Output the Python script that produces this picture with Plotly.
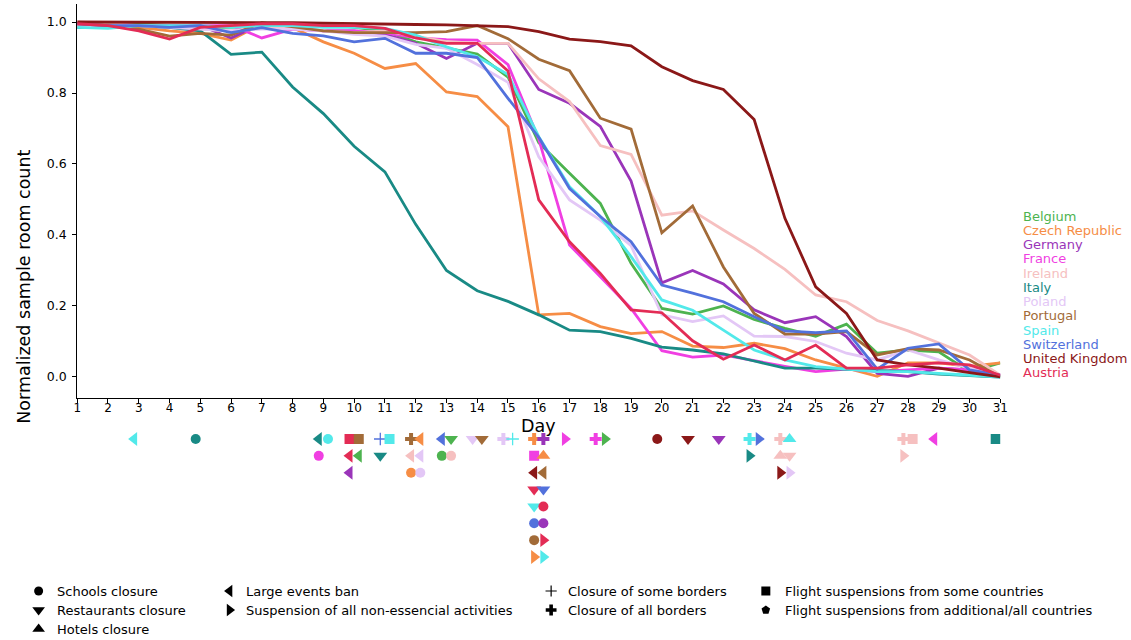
import plotly.graph_objects as go

W, H = 1131, 640
FONT = "DejaVu Sans"

days = list(range(1, 32))

countries = ["Belgium", "Czech Republic", "Germany", "France", "Ireland", "Italy",
             "Poland", "Portugal", "Spain", "Switzerland", "United Kingdom", "Austria"]
colors = ["#4db34f", "#f68d45", "#9a35b9", "#f03fe2", "#f6c0c0", "#198a85",
          "#e3c7f6", "#a26b38", "#52e9ea", "#5271dc", "#8b1818", "#e32c55"]

belgium = [0.99, 0.99, 0.995, 0.99, 0.985, 0.985, 0.99, 0.995, 0.995, 0.985, 0.975, 0.944, 0.926, 0.91, 0.845, 0.66,
           0.574, 0.489, 0.32, 0.193, 0.177, 0.2, 0.162, 0.137, 0.115, 0.149, 0.067, 0.076, 0.071, 0.015, 0.04]
czech = [0.99, 0.985, 0.985, 0.975, 0.968, 0.949, 0.995, 0.984, 0.944, 0.912, 0.869, 0.883, 0.803, 0.79, 0.705, 0.175,
         0.179, 0.142, 0.122, 0.128, 0.087, 0.083, 0.095, 0.08, 0.048, 0.025, 0.002, 0.04, 0.04, 0.03, 0.04]
germany = [0.995, 0.995, 0.99, 0.985, 0.99, 0.955, 0.995, 0.985, 0.975, 0.975, 0.965, 0.94, 0.897, 0.94, 0.94, 0.81,
           0.771, 0.706, 0.552, 0.265, 0.3, 0.262, 0.189, 0.153, 0.17, 0.114, 0.01, 0.002, 0.025, 0.02, 0.005]
france = [0.995, 0.995, 0.99, 0.99, 0.99, 0.99, 0.955, 0.98, 0.975, 0.975, 0.97, 0.955, 0.95, 0.949, 0.88, 0.67,
          0.372, 0.283, 0.193, 0.074, 0.056, 0.062, 0.045, 0.03, 0.015, 0.022, 0.015, 0.02, 0.025, 0.02, 0.005]
ireland = [1.0, 0.995, 0.99, 0.985, 0.98, 0.975, 0.985, 0.985, 0.975, 0.97, 0.975, 0.96, 0.945, 0.94, 0.94, 0.84,
           0.776, 0.652, 0.627, 0.456, 0.468, 0.414, 0.362, 0.303, 0.231, 0.212, 0.159, 0.13, 0.095, 0.062, 0.005]
italy = [0.984, 0.99, 0.99, 0.985, 0.975, 0.909, 0.915, 0.817, 0.742, 0.65, 0.578, 0.43, 0.3, 0.243, 0.213, 0.175,
         0.132, 0.128, 0.109, 0.084, 0.076, 0.065, 0.045, 0.025, 0.025, 0.022, 0.018, 0.015, 0.008, 0.003, 0.0]
poland = [0.99, 0.99, 0.99, 0.985, 0.98, 0.975, 0.98, 0.98, 0.975, 0.965, 0.96, 0.937, 0.926, 0.88, 0.83, 0.62,
          0.499, 0.442, 0.37, 0.175, 0.156, 0.172, 0.115, 0.114, 0.1, 0.067, 0.048, 0.076, 0.048, 0.025, 0.005]
portugal = [0.995, 0.99, 0.98, 0.96, 0.968, 0.963, 0.998, 0.987, 0.975, 0.97, 0.97, 0.97, 0.973, 0.99, 0.953, 0.895,
            0.863, 0.729, 0.698, 0.406, 0.482, 0.31, 0.179, 0.121, 0.121, 0.128, 0.062, 0.08, 0.076, 0.048, 0.0]
spain = [0.985, 0.982, 0.99, 0.99, 0.99, 0.985, 0.99, 0.99, 0.985, 0.985, 0.982, 0.963, 0.93, 0.902, 0.852, 0.677,
         0.536, 0.452, 0.339, 0.217, 0.188, 0.132, 0.076, 0.048, 0.029, 0.022, 0.015, 0.015, 0.01, 0.005, 0.0]
switzerland = [0.995, 0.99, 0.99, 0.985, 0.99, 0.97, 0.984, 0.968, 0.961, 0.944, 0.954, 0.912, 0.912, 0.9, 0.785, 0.675,
               0.531, 0.452, 0.381, 0.259, 0.236, 0.212, 0.17, 0.13, 0.125, 0.13, 0.022, 0.081, 0.093, 0.02, 0.005]
united_kingdom = [1.0, 1.0, 1.0, 0.998, 0.998, 0.998, 0.998, 0.998, 0.997, 0.995, 0.995, 0.993, 0.992, 0.989, 0.987, 0.973,
                  0.952, 0.945, 0.933, 0.874, 0.835, 0.81, 0.725, 0.447, 0.254, 0.179, 0.048, 0.034, 0.025, 0.012, 0.0]
austria = [0.995, 0.99, 0.975, 0.952, 0.985, 0.99, 0.995, 0.995, 0.99, 0.99, 0.982, 0.955, 0.94, 0.94, 0.862, 0.499,
           0.381, 0.292, 0.189, 0.181, 0.102, 0.05, 0.09, 0.048, 0.09, 0.025, 0.025, 0.034, 0.04, 0.034, 0.005]

series = [belgium, czech, germany, france, ireland, italy, poland, portugal, spain,
          switzerland, united_kingdom, austria]

y_ticks = [0.0, 0.2, 0.4, 0.6, 0.8, 1.0]

# measures (legend order) and their marker symbols
measure_keys = ["school", "restaurant", "hotel", "events", "nonessential",
                "someborders", "allborders", "someflights", "allflights"]
measure_labels = ["Schools closure", "Restaurants closure", "Hotels closure", "Large events ban",
                  "Suspension of all non-essencial activities", "Closure of some borders",
                  "Closure of all borders", "Flight suspensions from some countries",
                  "Flight suspensions from additional/all countries"]
measure_symbols = ["circle", "triangle-down", "triangle-up", "triangle-left", "triangle-right",
                   "cross-thin", "cross", "square", "pentagon"]

# policy events: day, country, measure
event_days = [3, 5,
              9, 9, 9,
              10, 10, 10, 10, 10,
              11, 11, 11,
              12, 12, 12, 12, 12, 12,
              13, 13, 13, 13,
              14, 14,
              15, 15,
              16, 16, 16, 16, 16, 16, 16, 16, 16, 16, 16, 16, 16, 16, 16, 16,
              17,
              18, 18,
              20, 21, 22,
              23, 23, 23,
              24, 24, 24, 24, 24, 24,
              28, 28, 28,
              29, 31]
event_countries = ["Spain", "Italy",
                   "Italy", "Spain", "France",
                   "Austria", "Portugal", "Austria", "Belgium", "Germany",
                   "Switzerland", "Spain", "Italy",
                   "Portugal", "Czech Republic", "Ireland", "Poland", "Czech Republic", "Poland",
                   "Switzerland", "Belgium", "Belgium", "Ireland",
                   "Poland", "Portugal",
                   "Poland", "Spain",
                   "Czech Republic", "Germany", "France", "Czech Republic", "United Kingdom", "Portugal",
                   "Austria", "Switzerland", "Spain", "Austria", "Switzerland", "Germany",
                   "Portugal", "Austria", "Czech Republic", "Spain",
                   "France",
                   "France", "Belgium",
                   "United Kingdom", "United Kingdom", "Germany",
                   "Spain", "Switzerland", "Italy",
                   "Ireland", "Spain", "Ireland", "Ireland", "United Kingdom", "Poland",
                   "Ireland", "Ireland", "Ireland",
                   "France", "Italy"]
event_measures = ["events", "school",
                  "events", "school", "school",
                  "someflights", "someflights", "events", "events", "events",
                  "someborders", "someflights", "restaurant",
                  "allborders", "events", "events", "events", "school", "school",
                  "events", "restaurant", "school", "school",
                  "restaurant", "restaurant",
                  "allborders", "someborders",
                  "allborders", "allborders", "someflights", "hotel", "events", "events",
                  "restaurant", "restaurant", "restaurant", "school", "school", "school",
                  "school", "nonessential", "nonessential", "nonessential",
                  "nonessential",
                  "allborders", "nonessential",
                  "school", "restaurant", "restaurant",
                  "allborders", "nonessential", "nonessential",
                  "allborders", "hotel", "hotel", "restaurant", "nonessential", "nonessential",
                  "allborders", "someflights", "nonessential",
                  "events", "someflights"]


# ---------------------------------------------------------------- layout geometry
def px_x(p):
    return p / W


def px_y(p):
    return 1 - p / H


def sym_size(sym, base):
    if sym.startswith("triangle"):
        return base + 2
    if sym == "cross-thin":
        return base - 1
    return base


fig = go.Figure()

for name, vals, col in zip(countries, series, colors):
    fig.add_trace(go.Scatter(x=days, y=vals, mode="lines", name=name,
                             line=dict(color=col, width=2.8), showlegend=False,
                             hoverinfo="skip", xaxis="x", yaxis="y"))

# events markers below the axis
color_of = dict(zip(countries, colors))
symbol_of = dict(zip(measure_keys, measure_symbols))
ex, ey, esym, ecol, elw, esz = [], [], [], [], [], []
slot = {}
for d, c, m in zip(event_days, event_countries, event_measures):
    i = slot.get(d, 0)
    slot[d] = i + 1
    ex.append(d + (-0.15 if i % 2 == 0 else 0.15))
    ey.append(i // 2)
    s = symbol_of[m]
    esym.append(s)
    esz.append(sym_size(s, 10))
    ecol.append(color_of[c])
    elw.append(1.3 if m == "someborders" else 0)

fig.add_trace(go.Scatter(x=ex, y=ey, mode="markers", showlegend=False, hoverinfo="skip",
                         marker=dict(symbol=esym, color=ecol, size=esz, opacity=1,
                                     line=dict(color=ecol, width=elw)),
                         xaxis="x2", yaxis="y2", cliponaxis=True))

# bottom legend of measures (black markers)
legend_marker_px = [35, 228, 553, 770]
legend_text_px = [52, 243, 568, 787]
legend_rows_px = [591, 610, 629]
legend_groups = [[0, 1, 2], [3, 4], [5, 6], [7, 8]]
lx, ly, lsym, llw, lsz = [], [], [], [], []
annotations = []
for mpx, tpx, grp in zip(legend_marker_px, legend_text_px, legend_groups):
    for r, mi in enumerate(grp):
        lx.append(mpx)
        ly.append(legend_rows_px[r])
        lsym.append(measure_symbols[mi])
        lsz.append(sym_size(measure_symbols[mi], 9))
        llw.append(1.2 if measure_keys[mi] == "someborders" else 0)
        annotations.append(dict(x=px_x(tpx), y=px_y(legend_rows_px[r]), xref="paper", yref="paper",
                                text=measure_labels[mi], showarrow=False, xanchor="left", yanchor="middle",
                                font=dict(family=FONT, size=13, color="black")))
fig.add_trace(go.Scatter(x=lx, y=ly, mode="markers", showlegend=False, hoverinfo="skip",
                         marker=dict(symbol=lsym, color="black", size=lsz, opacity=1,
                                     line=dict(color="black", width=llw)),
                         xaxis="x3", yaxis="y3"))

# country labels on the right
for i, (name, col) in enumerate(zip(countries, colors)):
    annotations.append(dict(x=px_x(1028), y=px_y(216 + 14.27 * i), xref="paper", yref="paper",
                            text=name, showarrow=False, xanchor="left", yanchor="middle",
                            font=dict(family=FONT, size=13, color=col)))

annotations.append(dict(x=px_x(540.5), y=px_y(426), xref="paper", yref="paper", text="Day",
                        showarrow=False, xanchor="center", yanchor="middle",
                        font=dict(family=FONT, size=17.5, color="black")))
annotations.append(dict(x=px_x(20), y=px_y(287), xref="paper", yref="paper",
                        text="Normalized sample room count", textangle=-90,
                        showarrow=False, xanchor="center", yanchor="middle",
                        font=dict(family=FONT, size=17.5, color="black")))

x_dom = [px_x(74), px_x(1007)]
fig.update_layout(
    width=W, height=H, margin=dict(l=0, r=0, t=0, b=0),
    paper_bgcolor="white", plot_bgcolor="rgba(0,0,0,0)",
    showlegend=False, hovermode=False,
    font=dict(family=FONT, size=12.5, color="black"),
    annotations=annotations,
    xaxis=dict(domain=x_dom, range=[1, 31], tickvals=days, ticktext=[str(d) for d in days],
               showline=True, linecolor="black", linewidth=1, ticks="outside", ticklen=4,
               tickcolor="black", showgrid=False, zeroline=False, anchor="y",
               ticklabelstandoff=-5,
               tickfont=dict(family=FONT, size=12, color="black")),
    yaxis=dict(domain=[px_y(398), px_y(4)], range=[-0.0592, 1.0507], tickvals=y_ticks,
               ticktext=[f"{v:.1f}" for v in y_ticks],
               showline=True, linecolor="black", linewidth=1, ticks="outside", ticklen=4,
               tickcolor="black", showgrid=False, zeroline=False, anchor="x",
               ticklabelstandoff=3,
               tickfont=dict(family=FONT, size=12.5, color="black")),
    xaxis2=dict(domain=x_dom, range=[1, 31], visible=False, anchor="y2"),
    yaxis2=dict(domain=[px_y(570), px_y(425)], range=[7.77, -0.83], visible=False, anchor="x2"),
    xaxis3=dict(domain=[0, 1], range=[0, W], visible=False, anchor="y3"),
    yaxis3=dict(domain=[0, 1], range=[H, 0], visible=False, anchor="x3"),
)

fig.write_html("out.html", config={"displayModeBar": False})
